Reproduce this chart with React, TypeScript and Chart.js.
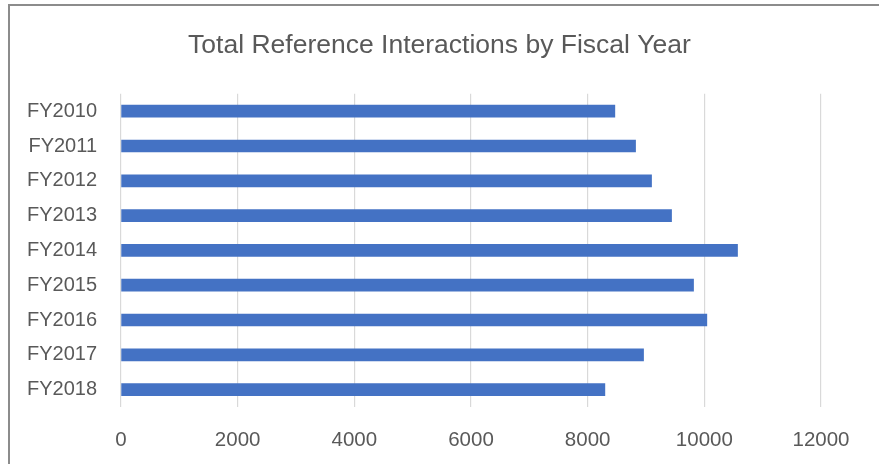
import React, { useEffect, useRef } from "react";
import { Chart, registerables } from "chart.js";

Chart.register(...registerables);

const categories = ["FY2010", "FY2011", "FY2012", "FY2013", "FY2014", "FY2015", "FY2016", "FY2017", "FY2018"];
const interactions = [8466, 8821, 9095, 9438, 10569, 9815, 10043, 8958, 8295];
const xTicks = [0, 2000, 4000, 6000, 8000, 10000, 12000];
const titleText = "Total Reference Interactions by Fiscal Year";

const FONT = "'Liberation Sans', Arial, sans-serif";
const TEXT_COLOR = "#595959";

export default function App() {
  const canvasRef = useRef<HTMLCanvasElement | null>(null);

  useEffect(() => {
    document.body.style.margin = "0";
    const canvas = canvasRef.current;
    if (!canvas) return;
    const chart = new Chart(canvas, {
      type: "bar",
      data: {
        labels: categories,
        datasets: [
          {
            label: "Total Reference Interactions",
            data: interactions,
            backgroundColor: "#4472C4",
            borderWidth: 0,
            barThickness: 12,
            yAxisID: "y",
          },
        ],
      },
      options: {
        indexAxis: "y",
        animation: false,
        responsive: false,
        maintainAspectRatio: false,
        layout: { padding: 0 },
        plugins: {
          legend: { display: false },
          tooltip: { enabled: false },
          title: {
            display: true,
            text: titleText,
            color: TEXT_COLOR,
            font: { family: FONT, size: 26.5, weight: "normal", lineHeight: 1.2 },
            padding: { top: 30, bottom: 32 },
          },
        },
        scales: {
          x: {
            min: 0,
            max: 12000,
            afterBuildTicks: (scale: any) => {
              scale.ticks = xTicks.map((v) => ({ value: v }));
            },
            afterFit: (scale: any) => {
              scale.height = 57;
            },
            grid: { color: "#d9d9d9", lineWidth: 1.2, drawTicks: false },
            border: { display: false },
            ticks: {
              color: TEXT_COLOR,
              font: { family: FONT, size: 20.5 },
              padding: 21,
              maxRotation: 0,
              callback: (v: any) => String(v),
            },
          },
          y: {
            afterFit: (scale: any) => {
              scale.width = 121;
            },
            grid: { display: false, drawTicks: false },
            border: { display: false },
            ticks: {
              color: TEXT_COLOR,
              font: { family: FONT, size: 20 },
              padding: 24,
            },
          },
          yRight: {
            position: "right",
            type: "category",
            labels: categories,
            afterFit: (scale: any) => {
              scale.width = 58;
            },
            grid: { display: false, drawTicks: false },
            border: { display: false },
            ticks: { display: false },
          },
        },
      },
    });
    return () => chart.destroy();
  }, []);

  return (
    <div style={{ position: "relative", width: 879, height: 464, overflow: "hidden", background: "#fff" }}>
      <canvas ref={canvasRef} width={879} height={464} style={{ position: "absolute", left: 0, top: 0, width: 879, height: 464 }} />
      <div
        style={{
          position: "absolute",
          left: 8,
          top: 4,
          width: 900,
          height: 500,
          border: "2px solid #8c8c8c",
          boxSizing: "border-box",
          pointerEvents: "none",
        }}
      />
    </div>
  );
}
